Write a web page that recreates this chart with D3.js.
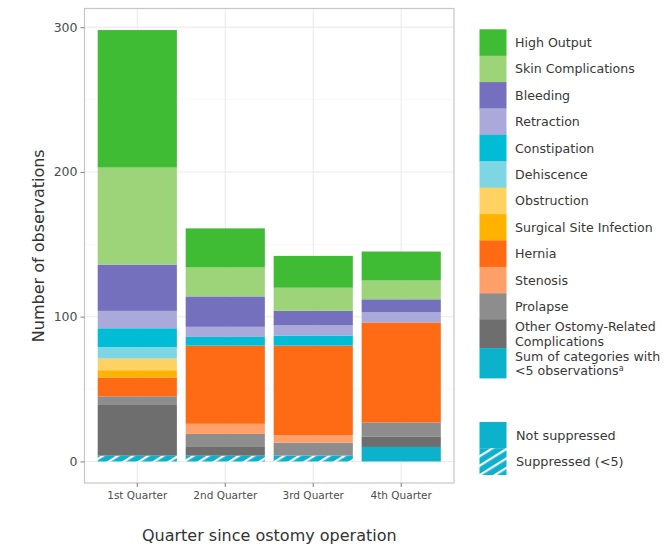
<!DOCTYPE html>
<html>
<head>
<meta charset="utf-8">
<script src="https://cdn.jsdelivr.net/npm/d3@7"></script>
<style>
  html, body { margin: 0; padding: 0; background: #ffffff; }
  svg { display: block; font-family: "DejaVu Sans", Verdana, sans-serif; }
</style>
</head>
<body>
<svg id="chart" width="664" height="546"></svg>
<script>
// Quarters since the ostomy operation
const quarters = ["1st Quarter", "2nd Quarter", "3rd Quarter", "4th Quarter"];

// Complication categories, top of the stack first (legend order)
const categories = [
  "High Output", "Skin Complications", "Bleeding", "Retraction", "Constipation",
  "Dehiscence", "Obstruction", "Surgical Site Infection", "Hernia", "Stenosis",
  "Prolapse", "Other Ostomy-Related Complications", "Sum of categories with <5 observations"
];

// Observation counts per category, one value per quarter
const highOutput    = [95, 27, 22, 20];
const skin          = [67, 20, 16, 13];
const bleeding      = [32, 21, 10, 9];
const retraction    = [12, 7, 7, 7];
const constipation  = [13, 6, 7, 0];
const dehiscence    = [8, 0, 0, 0];
const obstruction   = [8, 0, 0, 0];
const ssi           = [5, 0, 0, 0];
const hernia        = [13, 54, 62, 69];
const stenosis      = [0, 7, 5, 0];
const prolapse      = [6, 9, 9, 10];
const otherOstomy   = [35, 6, 0, 7];
const smallCats     = [4, 4, 4, 10];
// whether the small-category sum is suppressed (<5) in each quarter
const suppressed    = [true, true, true, false];

const yTicks = [0, 100, 200, 300];
const yMinorTicks = [50, 150, 250];

const seriesValues = [highOutput, skin, bleeding, retraction, constipation, dehiscence,
  obstruction, ssi, hernia, stenosis, prolapse, otherOstomy, smallCats];

const colors = ["#3fbc33", "#9dd47a", "#7470bd", "#aba9d9", "#00bcd4", "#7fd6e3",
  "#ffd262", "#ffb300", "#ff6b15", "#ffa06b", "#8d8d8d", "#6e6e6e", "#0cb1cc"];

const legendLines = [
  ["High Output"], ["Skin Complications"], ["Bleeding"], ["Retraction"], ["Constipation"],
  ["Dehiscence"], ["Obstruction"], ["Surgical Site Infection"], ["Hernia"], ["Stenosis"],
  ["Prolapse"], ["Other Ostomy-Related", "Complications"], ["Sum of categories with", "<5 observations"]
];

// Table for d3.stack: one row per quarter
const rows = quarters.map((q, i) => {
  const r = { quarter: q, idx: i };
  categories.forEach((c, k) => { r[c] = seriesValues[k][i]; });
  return r;
});

const stackOrder = categories.slice().reverse(); // bottom of stack first
const stack = d3.stack().keys(stackOrder);
const layers = stack(rows);
const colorOf = d3.scaleOrdinal().domain(categories).range(colors);

const svg = d3.select("#chart");
const panel = { left: 84.5, right: 454, top: 8.5, bottom: 483 };

const maxTotal = d3.max(rows, r => d3.sum(categories, c => r[c]));
const pad = maxTotal * 0.05;
const y = d3.scaleLinear().domain([-pad, maxTotal + pad]).range([panel.bottom, panel.top]);
const x = d3.scaleBand().domain(quarters).range([panel.left, panel.right])
  .paddingInner(0.1).paddingOuter(0.15);

// Hatch pattern for suppressed values
const defs = svg.append("defs");
const pat = defs.append("pattern")
  .attr("id", "hatch")
  .attr("patternUnits", "userSpaceOnUse")
  .attr("width", 8).attr("height", 8)
  .attr("patternTransform", "rotate(-32)");
pat.append("rect").attr("width", 8).attr("height", 8).attr("fill", colorOf(categories[12]));
pat.append("rect").attr("y", 0).attr("width", 8).attr("height", 2.2).attr("fill", "#ffffff");

// Panel background grid
const grid = svg.append("g");
grid.selectAll("line.minor").data(yMinorTicks).join("line")
  .attr("x1", panel.left).attr("x2", panel.right)
  .attr("y1", d => y(d)).attr("y2", d => y(d))
  .attr("stroke", "#f2f2f2").attr("stroke-width", 0.6);
grid.selectAll("line.major").data(yTicks).join("line")
  .attr("x1", panel.left).attr("x2", panel.right)
  .attr("y1", d => y(d)).attr("y2", d => y(d))
  .attr("stroke", "#ebebeb").attr("stroke-width", 1.1);
grid.selectAll("line.vx").data(quarters).join("line")
  .attr("x1", d => x(d) + x.bandwidth() / 2).attr("x2", d => x(d) + x.bandwidth() / 2)
  .attr("y1", panel.top).attr("y2", panel.bottom)
  .attr("stroke", "#ebebeb").attr("stroke-width", 1.1);

// Stacked bars
const barG = svg.append("g");
layers.forEach(layer => {
  const key = layer.key;
  const isSmall = key === categories[12];
  barG.append("g").selectAll("rect").data(layer.filter(d => d[1] - d[0] > 0)).join("rect")
    .attr("x", d => x(d.data.quarter))
    .attr("width", x.bandwidth())
    .attr("y", d => y(d[1]))
    .attr("height", d => y(d[0]) - y(d[1]))
    .attr("fill", d => (isSmall && suppressed[d.data.idx]) ? "url(#hatch)" : colorOf(key));
});

// Panel border
svg.append("rect")
  .attr("x", panel.left).attr("y", panel.top)
  .attr("width", panel.right - panel.left).attr("height", panel.bottom - panel.top)
  .attr("fill", "none").attr("stroke", "#c6c6c6").attr("stroke-width", 1.2);

// Y axis
const yAxis = svg.append("g").attr("transform", `translate(${panel.left},0)`)
  .call(d3.axisLeft(y).tickValues(yTicks).tickSize(4).tickPadding(3));
yAxis.select(".domain").remove();
yAxis.selectAll(".tick line").attr("stroke", "#8a8a8a").attr("stroke-width", 1.1);
yAxis.selectAll(".tick text").attr("fill", "#4d4d4d").style("font-size", "12.5px")
  .style("font-family", "DejaVu Sans, sans-serif");

// X axis
const xAxis = svg.append("g").attr("transform", `translate(0,${panel.bottom})`)
  .call(d3.axisBottom(x).tickSize(4).tickPadding(5));
xAxis.select(".domain").remove();
xAxis.selectAll(".tick line").attr("stroke", "#8a8a8a").attr("stroke-width", 1.1);
xAxis.selectAll(".tick text").attr("fill", "#4d4d4d").style("font-size", "10.5px")
  .style("font-family", "DejaVu Sans, sans-serif");

// Axis titles
svg.append("text")
  .attr("x", (panel.left + panel.right) / 2).attr("y", 541)
  .attr("text-anchor", "middle").attr("fill", "#333333")
  .style("font-size", "16px").text("Quarter since ostomy operation");
svg.append("text")
  .attr("transform", `translate(44,${(panel.top + panel.bottom) / 2}) rotate(-90)`)
  .attr("text-anchor", "middle").attr("fill", "#333333")
  .style("font-size", "16px").text("Number of observations");

// Category legend
const legend = svg.append("g");
const keyX = 479.5, keyW = 27, labelX = 515;
const keyHeights = categories.map((c, i) => legendLines[i].length > 1 ? (i === 12 ? 30 : 28.4) : 26.4);
let ky = 29.3;
categories.forEach((c, i) => {
  const h = keyHeights[i];
  legend.append("rect")
    .attr("x", keyX).attr("y", ky).attr("width", keyW).attr("height", h + 0.3)
    .attr("fill", colorOf(c));
  const lines = legendLines[i];
  const cy = ky + h / 2;
  const lineGap = 14.2;
  lines.forEach((ln, j) => {
    const ty = cy + (j - (lines.length - 1) / 2) * lineGap + 4.5;
    const t = legend.append("text")
      .attr("x", labelX).attr("y", ty)
      .attr("fill", "#383838").style("font-size", "12.6px")
      .text(ln);
    if (i === 12 && j === 1) {
      t.append("tspan").attr("dy", -4).style("font-size", "8px").text("a");
    }
  });
  ky += h;
});

// Suppression legend
const sg = svg.append("g");
sg.append("rect").attr("x", keyX).attr("y", 422).attr("width", keyW).attr("height", 26.5)
  .attr("fill", colorOf(categories[12]));
sg.append("rect").attr("x", keyX).attr("y", 448.3).attr("width", keyW).attr("height", 26.7)
  .attr("fill", "url(#hatch)");
sg.append("text").attr("x", labelX + 1).attr("y", 439.5).attr("fill", "#383838")
  .style("font-size", "12.8px").text("Not suppressed");
sg.append("text").attr("x", labelX + 1).attr("y", 466).attr("fill", "#383838")
  .style("font-size", "12.8px").text("Suppressed (<5)");
</script>
</body>
</html>
